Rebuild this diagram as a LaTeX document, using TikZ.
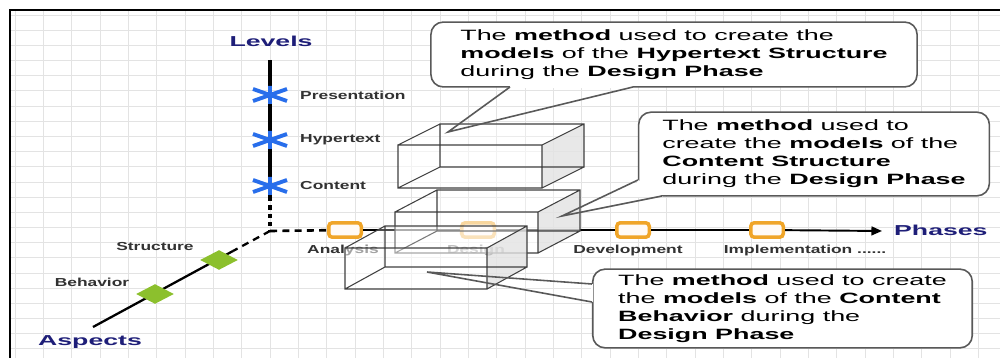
\documentclass[tikz,border=0pt]{standalone}
\usepackage{fontspec}
\usepackage{tikz}
\usetikzlibrary{shapes.geometric,arrows.meta,positioning}
\newfontfamily\titlefont{Liberation Sans}[FakeStretch=1.85]
\newfontfamily\markfont{Liberation Sans}[FakeStretch=1.5]
\newfontfamily\calloutfont{Liberation Sans}[FakeStretch=1.8]
\definecolor{axisblue}{RGB}{30,30,120}
\definecolor{starblue}{RGB}{40,110,235}
\definecolor{phaseorange}{RGB}{240,165,40}
\definecolor{aspectgreen}{RGB}{140,192,45}
\definecolor{labelgray}{RGB}{50,50,50}
% asterisk on the levels axis with its label
\newcommand{\levelpt}[3]{\node[coordinate] at (#1) (#2) {};
  \draw[levelstar] (#2) ++(0,-9) -- ++(0,18) (#2) ++(-17,-6) -- ++(34,12) (#2) ++(-17,6) -- ++(34,-12);
  \node[marklabel,right=16pt of #2] {#3}}
% see-through box: name, front lower left, front upper right, depth
\newcommand{\slab}[4]{\coordinate (#1-a) at (#2); \coordinate (#1-c) at (#3);
  \coordinate (#1-b) at (#1-c |- #1-a); \coordinate (#1-d) at (#1-a |- #1-c);
  \coordinate (#1-A) at ([shift={(#4)}]#1-a); \coordinate (#1-B) at ([shift={(#4)}]#1-b);
  \coordinate (#1-C) at ([shift={(#4)}]#1-c); \coordinate (#1-D) at ([shift={(#4)}]#1-d);
  \fill[slabside] (#1-b) -- (#1-B) -- (#1-C) -- (#1-c) -- cycle;
  \fill[slabtop] (#1-d) -- (#1-D) -- (#1-C) -- (#1-c) -- cycle;
  \fill[slabface] (#1-a) rectangle (#1-c);
  \draw[slabedge] (#1-a) rectangle (#1-c) (#1-A) rectangle (#1-C)
    (#1-a) -- (#1-A) (#1-b) -- (#1-B) (#1-c) -- (#1-C) (#1-d) -- (#1-D)}

\begin{document}
\begin{tikzpicture}[x=0.02cm,y=0.02cm,
  gridline/.style={gray!22,line width=0.4pt},
  frameline/.style={black,line width=1.2pt},
  levelaxis/.style={black,line width=1.8pt},
  aspectaxis/.style={black,line width=1.3pt},
  phaseline/.style={black,line width=1.1pt},
  levelstar/.style={starblue,line width=2.2pt},
  aspectmark/.style={diamond,fill=aspectgreen,minimum width=21.5pt,minimum height=11.3pt,inner sep=0pt},
  phasebox/.style={rectangle,rounded corners=2pt,draw=phaseorange,line width=2pt,fill=orange!4,minimum width=18.5pt,minimum height=8.2pt,inner sep=0pt},
  axistitle/.style={text=axisblue,font=\titlefont\fontsize{8.2}{10}\selectfont\bfseries},
  marklabel/.style={text=labelgray,font=\markfont\fontsize{6.6}{8}\selectfont\bfseries,inner sep=1pt},
  slabedge/.style={draw=black!75,line width=0.6pt},
  slabface/.style={fill=white,fill opacity=0.55},
  slabtop/.style={fill=white,fill opacity=0.3},
  slabside/.style={fill=gray!22,fill opacity=0.8},
  note/.style={draw=black!65,line width=0.9pt,fill=white,rounded corners=7pt,align=left,inner sep=0pt,font=\calloutfont\fontsize{8.5}{10.2}\selectfont},
  notepen/.style={draw=black!65,line width=0.9pt}]
  \fill[white] (0,0) rectangle (1000,358);
  \useasboundingbox (0,0) rectangle (1000,358);

  % grid paper and frame
  \foreach \k in {0,...,34}
    \draw[gridline] ({15+28.33*\k},0) -- ({15+28.33*\k},348);
  \foreach \k in {0,...,22}
    \draw[gridline] (10,{343-15.17*\k}) -- (1000,{343-15.17*\k});
  \draw[frameline] (10,0) -- (10,348) -- (1000,348);

  % axes
  \coordinate (origin) at (270,127);
  \coordinate (levtop) at (270,298);
  \coordinate (levdot) at (270,161);
  \coordinate (aspbreak) at (233,107);
  \coordinate (aspend) at (93,31);
  \coordinate (phasetip) at (882,127);
  \draw[levelaxis] (levtop) -- (levdot);
  \draw[levelaxis,dash pattern=on 2.5pt off 2.2pt] (levdot) -- (origin);
  \draw[aspectaxis,dash pattern=on 4pt off 3pt] (origin) -- (aspbreak);
  \draw[aspectaxis] (aspbreak) -- (aspend);

  \node[axistitle] (levels) at (271,317) {Levels};
  \node[axistitle] (aspects) at (90,16) {Aspects};
  \node[axistitle,anchor=west] (phases) at (888,128) {Phases};

  \levelpt{270,263}{presentation}{Presentation};
  \levelpt{270,218}{hypertext}{Hypertext};
  \levelpt{270,172}{content}{Content};

  \node[aspectmark] (structure) at (219,98) {};
  \node[aspectmark] (behavior) at (155,64) {};
  \node[marklabel] at (155,111) {Structure};
  \node[marklabel] at (92,76) {Behavior};

  % phases
  \node[phasebox] (analysis) at (345,128) {};
  \node[phasebox] (design) at (478,128) {};
  \node[phasebox] (development) at (633,128) {};
  \node[phasebox] (implementation) at (767,128) {};
  \draw[levelaxis,line width=1.5pt,dash pattern=on 4pt off 3pt] (origin) -- (analysis);
  \draw[phaseline] (analysis) -- (design) -- (development) -- (implementation);
  \draw[phaseline,-{Triangle[length=6pt,width=5pt]}] (implementation) -- (phasetip);
  \node[marklabel] at (343,107) {Analysis};
  \node[marklabel] at (476,107) {Design};
  \node[marklabel] at (628,107) {Development};
  \node[marklabel] at (805,107) {Implementation ......};

  % method boxes
  \slab{hyper}{398,170}{542,213}{42,21};
  \slab{cstruct}{395,105}{538,146}{42,22};
  \slab{cbehav}{345,69}{487,110}{40,22};

  % callouts
  \node[note,minimum width=276.7pt,minimum height=36.9pt] (noteH) at (674,303.5)
    {The \textbf{method} used to create the\\
     \textbf{models} of the \textbf{Hypertext Structure}\\
     during the \textbf{Design Phase}};
  \node[note,minimum width=199.6pt,minimum height=47.6pt] (noteS) at (814,204)
    {The \textbf{method} used to\\
     create the \textbf{models} of the\\
     \textbf{Content Structure}\\
     during the \textbf{Design Phase}};
  \node[note,minimum width=216pt,minimum height=44.8pt] (noteB) at (782.5,49.5)
    {The \textbf{method} used to create\\
     the \textbf{models} of the \textbf{Content}\\
     \textbf{Behavior} during the\\
     \textbf{Design Phase}};

  \coordinate (tipH) at (448,226);
  \coordinate (noteH-l) at (510,271);
  \coordinate (noteH-r) at (633,271);
  \coordinate (tipS) at (562,142);
  \coordinate (noteS-l) at (638,178);
  \coordinate (noteS-r) at (662,162);
  \coordinate (tipB) at (427,86);
  \coordinate (noteB-t) at (592,74);
  \coordinate (noteB-b) at (592,56);
  \draw[white,line width=1.6pt] (noteH-l) -- (noteH-r);
  \fill[white] (637,179) -- (637,161) -- (663,161) -- cycle;
  \draw[white,line width=1.6pt] (noteB-t) -- (noteB-b);
  \draw[notepen] (noteH-l) -- (tipH) -- (noteH-r);
  \draw[notepen] (noteS-l) -- (tipS) -- (noteS-r);
  \draw[notepen] (noteB-t) -- (tipB) -- (noteB-b);
\end{tikzpicture}
\end{document}
